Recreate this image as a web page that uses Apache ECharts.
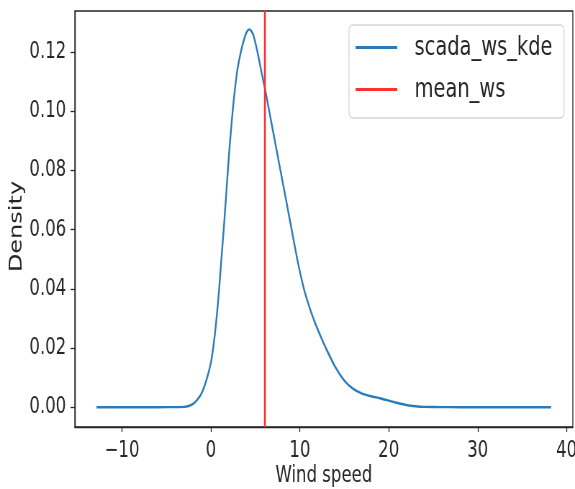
<!DOCTYPE html>
<html>
<head>
<meta charset="utf-8">
<script src="https://cdn.jsdelivr.net/npm/echarts@6/dist/echarts.min.js"></script>
<style>
html,body{margin:0;padding:0;background:#fff}
#wrap{width:575px;height:489px;overflow:hidden}
#c{width:799px;height:489px;transform:scaleX(0.71965);transform-origin:0 0}
</style>
</head>
<body>
<div id="wrap"><div id="c"></div></div>
<script>
// Wind speed (x) and KDE density (y)
var wsX = [-12.86, -10, -8, -6, -4, -3, -2.5, -2, -1.5, -1, -0.5, 0, 0.3, 0.6, 0.9, 1.2, 1.5, 1.8, 2.1, 2.4, 2.7, 3.0, 3.4, 3.8, 4.05, 4.3, 4.55, 4.8, 5.25, 5.65, 6.07, 6.56, 7.19, 7.82, 8.45, 9.08, 9.71, 10.1, 10.5, 10.9, 11.3, 11.8, 12.4, 13.0, 14.0, 15.0, 16.0, 17.0, 18.0, 19.0, 20.0, 21.0, 22.0, 23.0, 24.0, 26.0, 28.0, 31.0, 35.0, 38.25];
var kdeY = [0, 0, 0, 0, 0.00003, 0.0001, 0.0004, 0.0011, 0.0026, 0.005, 0.0092, 0.015, 0.021, 0.029, 0.039, 0.051, 0.0625, 0.0755, 0.088, 0.0985, 0.1075, 0.1145, 0.1205, 0.1250, 0.1270, 0.1277, 0.1271, 0.1255, 0.1198, 0.1138, 0.1078, 0.1000, 0.0900, 0.0800, 0.0700, 0.0600, 0.0500, 0.0445, 0.0395, 0.0355, 0.0318, 0.0278, 0.0235, 0.0195, 0.0135, 0.0090, 0.0062, 0.0046, 0.0037, 0.0030, 0.0022, 0.0014, 0.0007, 0.0003, 0.0001, 0.00002, 0, 0, 0, 0];
var meanWs = 6.07;
var xTicks = [-10, 0, 10, 20, 30, 40];
var yTicks = [0, 0.02, 0.04, 0.06, 0.08, 0.10, 0.12];
var xRange = [-15.3, 40.7];
var yRange = [-0.0067, 0.1339];
var seriesNames = ['scada_ws_kde', 'mean_ws'];

var kdeData = wsX.map(function (x, i) { return [x, kdeY[i]]; });
var meanData = [[meanWs, yRange[0]], [meanWs, yRange[1]]];

var font = "'DejaVu Sans', sans-serif";
var ink = '#262626';
var chart = echarts.init(document.getElementById('c'), null, { renderer: 'canvas' });
chart.setOption({
  animation: false,
  grid: { left: 104, right: 3, top: 11, bottom: 62, outerBoundsMode: 'none', containLabel: false,
    show: true, borderColor: ink, borderWidth: 1.3, backgroundColor: 'transparent' },
  legend: {
    orient: 'vertical',
    left: 485, top: 25,
    data: seriesNames,
    icon: 'rect',
    itemWidth: 58, itemHeight: 3,
    itemGap: 15,
    padding: [9, 16, 15, 9],
    backgroundColor: '#fff',
    borderColor: '#d6d6d6', borderWidth: 1.3, borderRadius: 5,
    textStyle: { fontFamily: font, fontSize: 27, color: ink, padding: [0, 0, 0, 19] }
  },
  xAxis: {
    type: 'value', min: xRange[0], max: xRange[1],
    name: 'Wind speed', nameLocation: 'middle', nameGap: 38, nameMoveOverlap: false,
    nameTextStyle: { fontFamily: font, fontSize: 23, color: ink },
    axisLine: { show: true, onZero: false, lineStyle: { color: ink, width: 1.3 } },
    axisTick: { show: true, length: 5, customValues: xTicks, lineStyle: { color: ink, width: 1.3 } },
    axisLabel: { customValues: xTicks, margin: 13, fontFamily: font, fontSize: 23, color: ink,
      formatter: function (v) { return String(v).replace('-', '\u2212'); } },
    splitLine: { show: false }
  },
  yAxis: {
    type: 'value', min: yRange[0], max: yRange[1],
    name: 'Density', nameLocation: 'middle', nameGap: 68, nameRotate: 90, nameMoveOverlap: false,
    nameTextStyle: { fontFamily: font, fontSize: 24, color: ink, padding: [0, 0, 0, -15] },
    axisLine: { show: true, onZero: false, lineStyle: { color: ink, width: 1.4 } },
    axisTick: { show: true, length: 6, customValues: yTicks, lineStyle: { color: ink, width: 1.3 } },
    axisLabel: { customValues: yTicks, margin: 12, fontFamily: font, fontSize: 23, color: ink,
      formatter: function (v) { return v.toFixed(2); } },
    splitLine: { show: false }
  },
  series: [
    { name: seriesNames[0], type: 'line', data: kdeData, showSymbol: false, smooth: 0.2,
      lineStyle: { color: '#2b7bba', width: 2.4 }, itemStyle: { color: '#2b7bba' }, z: 2 },
    { name: seriesNames[1], type: 'line', data: meanData, showSymbol: false,
      lineStyle: { color: '#ff3030', width: 2.6 }, itemStyle: { color: '#ff3030' }, z: 3 }
  ]
});
</script>
</body>
</html>
